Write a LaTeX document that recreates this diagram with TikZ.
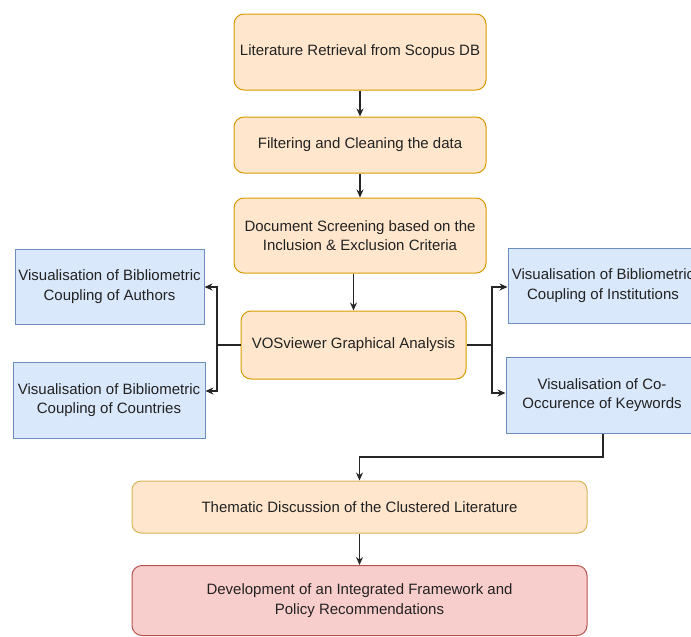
\documentclass[tikz,border=0pt]{standalone}
\usepackage{fontspec}
\setmainfont{Liberation Sans}
\usetikzlibrary{arrows.meta,calc}
\definecolor{ofill}{HTML}{FFE6CC}
\definecolor{ostroke}{HTML}{D79B00}
\definecolor{yfill}{HTML}{FFE6CC}
\definecolor{ystroke}{HTML}{D6B656}
\definecolor{bfill}{HTML}{DAE8FC}
\definecolor{bstroke}{HTML}{6C8EBF}
\definecolor{rfill}{HTML}{F8CECC}
\definecolor{rstroke}{HTML}{B85450}
\definecolor{txt}{HTML}{222222}
\tikzset{
  base/.style={draw, line width=1pt, align=center, text=txt, inner sep=0pt,
    font=\fontsize{15}{19.5}\selectfont},
  obox/.style={base, fill=ofill, draw=ostroke, rounded corners=10pt},
  ybox/.style={base, fill=yfill, draw=ystroke, rounded corners=9pt},
  bbox/.style={base, fill=bfill, draw=bstroke},
  rbox/.style={base, fill=rfill, draw=rstroke, rounded corners=10pt},
  conn/.style={line width=1.3pt, draw=black!85, -{Stealth[length=8pt,width=7pt]}},
  line/.style={line width=1.3pt, draw=black!85},
}
\begin{document}
\begin{tikzpicture}[x=1pt,y=-1pt]
\useasboundingbox (0,0) rectangle (691,637);
\node[obox, minimum width=252pt, minimum height=76pt] (b1) at (360,52) {Literature Retrieval from Scopus DB};
\node[obox, minimum width=252pt, minimum height=56pt] (b2) at (360,145) {Filtering and Cleaning the data};
\node[obox, minimum width=252pt, minimum height=75pt] (b3) at (360,235.5) {Document Screening based on the\\Inclusion \& Exclusion Criteria};
\node[obox, minimum width=225pt, minimum height=68pt] (vos) at (353.5,345) {VOSviewer Graphical Analysis};
\node[bbox, minimum width=189pt, minimum height=75pt] (auth) at (109.5,286.5) {Visualisation of Bibliometric\\Coupling of Authors};
\node[bbox, minimum width=192pt, minimum height=76pt] (ctry) at (109,400) {Visualisation of Bibliometric\\Coupling of Countries};
\node[bbox, minimum width=190pt, minimum height=75pt] (inst) at (603,285.5) {Visualisation of Bibliometric\\Coupling of Institutions};
\node[bbox, minimum width=192pt, minimum height=76pt] (kw) at (602,395) {Visualisation of Co-\\Occurence of Keywords};
\node[ybox, minimum width=455pt, minimum height=52pt] (them) at (359.5,507) {Thematic Discussion of the Clustered Literature};
\node[rbox, minimum width=455pt, minimum height=70pt] (dev) at (359.5,600.5) {Development of an Integrated Framework and\\Policy Recommendations};

\coordinate (lj) at (217,345);
\coordinate (rj) at (492,345);
\coordinate (kd) at (603,457);

\draw[conn] (b1) -- (b2);
\draw[conn] (b2) -- (b3);
\draw[conn] (b3.south -| vos) -- (vos);
\draw[line] (vos.west) -- (lj);
\draw[conn] (lj) |- (auth.east |- 0,287);
\draw[conn] (lj) |- (ctry.east |- 0,391);
\draw[line] (vos.east) -- (rj);
\draw[conn] (rj) |- (inst.west |- 0,287);
\draw[conn] (rj) |- (kw.west |- 0,393);
\draw[conn] (kw.south -| kd) -- (kd) -| (them.north);
\draw[conn] (them) -- (dev);
\end{tikzpicture}
\end{document}
